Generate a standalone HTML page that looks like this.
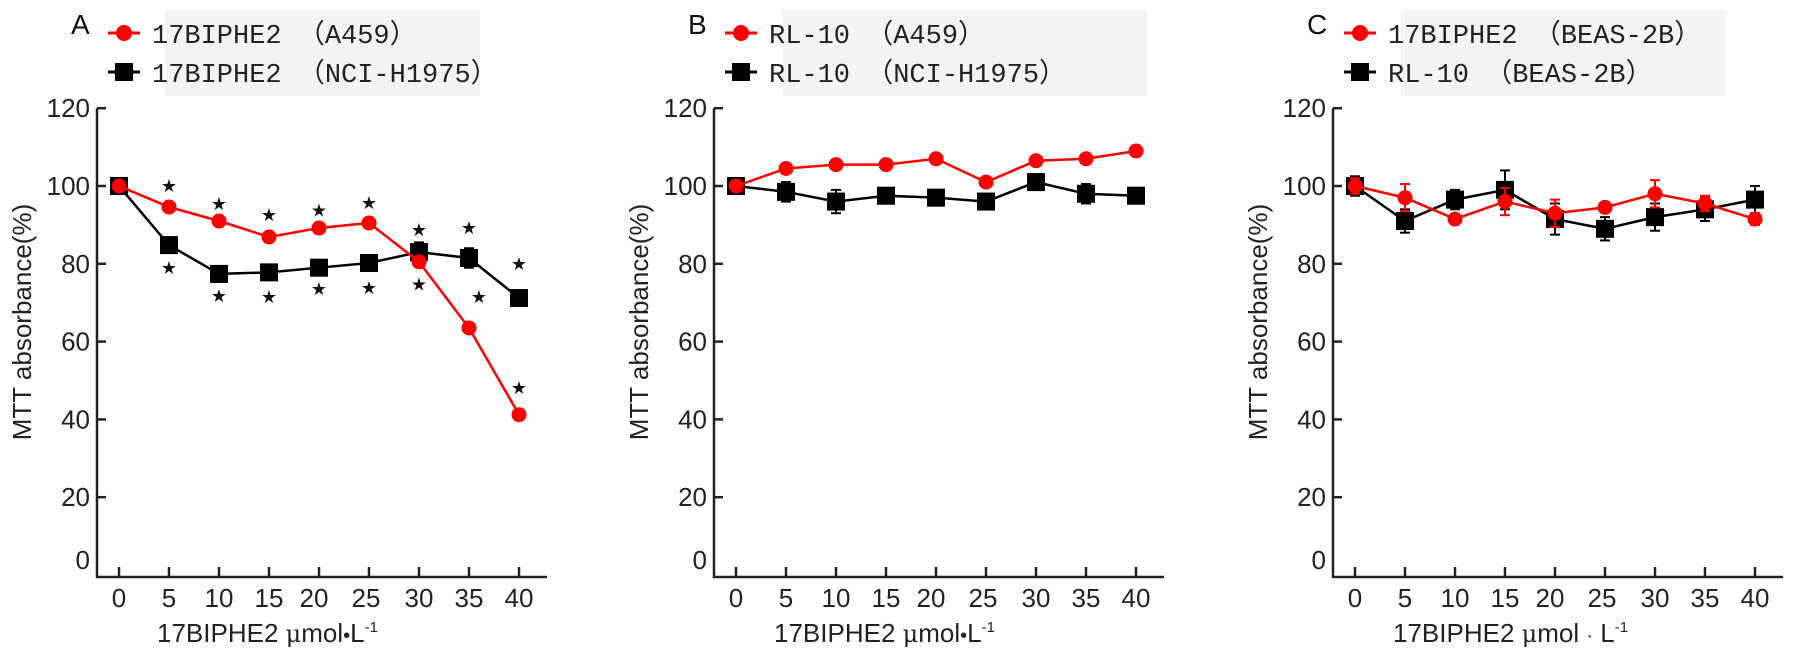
<!DOCTYPE html>
<html><head><meta charset="utf-8">
<style>
html,body{margin:0;padding:0;background:#fff;}
svg{display:block;}
</style></head>
<body>
<svg id="fig" width="1795" height="666" viewBox="0 0 1795 666" xmlns="http://www.w3.org/2000/svg"></svg>
<script>
// ---- data ----
const concentrations = [0, 5, 10, 15, 20, 25, 30, 35, 40];
const xTickLabels = ["0","5","10","15","20","25","30","35","40"];
const yTicks = [0, 20, 40, 60, 80, 100, 120];

const aRed   = [100, 94.6, 91, 86.9, 89.2, 90.5, 80.5, 63.5, 41.2];
const aBlack = [100, 84.8, 77.4, 77.8, 79, 80.2, 83, 81.5, 71.2];
const aBlackErr = [1.5, 2, 2, 2, 2, 2, 2.5, 2.5, 2];
const aRedErr = [1, 1, 1, 1, 1, 1, 1, 1, 1];
const starConc = [5, 5, 10, 10, 15, 15, 20, 20, 25, 25, 30, 30, 35, 36, 40, 40];
const starVal  = [100.3, 79.2, 95.6, 72, 92.8, 71.7, 94, 73.8, 95.9, 74, 89, 75, 89.5, 71.7, 80.2, 48.3];

const bRed   = [100, 104.5, 105.5, 105.5, 107, 101, 106.5, 107, 109];
const bBlack = [100, 98.5, 96, 97.5, 97, 96, 101, 98, 97.5];
const bRedErr = [1, 1, 1, 1, 1, 1, 1, 1, 1];
const bBlackErr = [1.5, 2.5, 3, 1.5, 1.5, 1.5, 2, 2.5, 2];

const cRed   = [100, 97, 91.5, 96, 93, 94.5, 98, 95.5, 91.5];
const cBlack = [100, 91, 96.5, 99, 91.5, 89, 92, 94, 96.5];
const cRedErr = [2, 3.5, 1, 3.5, 3.5, 1, 3.5, 2, 1.5];
const cBlackErr = [2.5, 3, 2.5, 5, 4, 3, 3.5, 3, 3.5];

const legendA = ["17BIPHE2 （A459）", "17BIPHE2 （NCI-H1975）"];
const legendB = ["RL-10 （A459）", "RL-10 （NCI-H1975）"];
const legendC = ["17BIPHE2 （BEAS-2B）", "RL-10 （BEAS-2B）"];

// ---- helpers ----
const NS = "http://www.w3.org/2000/svg";
const svg = document.getElementById("fig");
function mk(tag, attrs, parent){
  const e = document.createElementNS(NS, tag);
  for (const k in attrs) e.setAttribute(k, attrs[k]);
  (parent||svg).appendChild(e);
  return e;
}
function yScale(v){ return 575 - 3.89 * v; }
function xScaleFor(dx){ return c => 119 + dx + c * 10; }

function panel(key, dx, letter, leg, legW, red, redErr, black, blackErr, xTitle){
  const g = mk("g", {});
  
  
  const xs = xScaleFor(dx);
  const ax = 97 + dx;

  const bg = mk("rect", {x: dx + 165, y: 10, width: legW, height: 86, fill: "#f3f3f3"}, g);
  
  
  const lt = mk("text", {x: ax - 26, y: 34, "font-family": "Liberation Sans, sans-serif", "font-size": 28, fill: "#111"}, g);
  lt.textContent = letter;
  
  
  const lx = dx + 108;
  const rows = [[33, "red", leg[0]], [72, "black", leg[1]]];
  rows.forEach((r, i) => {
    const eg = mk("g", {}, g);
    
    
    const col = i === 0 ? "#ff0000" : "#000";
    mk("line", {x1: lx, y1: r[0], x2: lx + 32, y2: r[0], stroke: col, "stroke-width": 3}, eg);
    if (i === 0) mk("circle", {cx: lx + 16, cy: r[0], r: 8, fill: col}, eg);
    else mk("rect", {x: lx + 7, y: r[0] - 9, width: 18, height: 18, fill: col}, eg);
    const t = mk("text", {x: lx + 44, y: r[0] + 10, "font-family": "Liberation Mono, Noto Sans CJK SC, monospace", "font-size": 27, "font-weight": "normal", fill: "#222"}, eg);
    t.textContent = r[2];
  });

  const axes = mk("g", {stroke: "#222", "stroke-width": 2.5, fill: "none"}, g);
  
  
  mk("line", {x1: ax, y1: yScale(120), x2: ax, y2: 578}, axes);
  mk("line", {x1: ax - 1, y1: 577, x2: ax + 450, y2: 577}, axes);
  yTicks.forEach(v => {
    if (v > 0) mk("line", {x1: ax, y1: yScale(v), x2: ax + 9, y2: yScale(v)}, axes);
    const t = mk("text", {x: ax - 7, y: (v === 0 ? 569 : yScale(v) + 9), "text-anchor": "end", "font-family": "Liberation Sans, sans-serif", "font-size": 26, fill: "#222", stroke: "none"}, g);
    t.textContent = String(v);
    
    
  });
  concentrations.forEach((c, i) => {
    mk("line", {x1: xs(c), y1: 577, x2: xs(c), y2: 567}, axes);
    let off = 0;
    if (c === 20) off = -5;
    if (c === 25) off = -3;
    const t = mk("text", {x: xs(c) + off, y: 607, "text-anchor": "middle", "font-family": "Liberation Sans, sans-serif", "font-size": 26, fill: "#222"}, g);
    t.textContent = xTickLabels[i];
    
    
  });
  const yt = mk("text", {x: 0, y: 0, transform: `translate(${dx + 31},${322}) rotate(-90)`, "text-anchor": "middle", "font-family": "Liberation Sans, sans-serif", "font-size": 26, fill: "#222"}, g);
  yt.textContent = "MTT absorbance(%)";
  
  
  const xt = mk("text", {x: dx + 157, y: 642, "font-family": "Liberation Sans, sans-serif", "font-size": 26, fill: "#222"}, g);
  xt.innerHTML = xTitle;
  
  

  function series(vals, errs, col, kind){
    const sg = mk("g", {}, g);
    
    
    const pts = vals.map((v, i) => xs(concentrations[i]) + "," + yScale(v)).join(" ");
    mk("polyline", {points: pts, fill: "none", stroke: col, "stroke-width": 2.5}, sg);
    vals.forEach((v, i) => {
      const x = xs(concentrations[i]);
      const e = errs[i];
      mk("line", {x1: x, y1: yScale(v + e), x2: x, y2: yScale(v - e), stroke: col, "stroke-width": 2}, sg);
      mk("line", {x1: x - 5, y1: yScale(v + e), x2: x + 5, y2: yScale(v + e), stroke: col, "stroke-width": 2}, sg);
      mk("line", {x1: x - 5, y1: yScale(v - e), x2: x + 5, y2: yScale(v - e), stroke: col, "stroke-width": 2}, sg);
      let m;
      if (kind === "red") m = mk("circle", {cx: x, cy: yScale(v), r: 7.5, fill: col}, sg);
      else m = mk("rect", {x: x - 9, y: yScale(v) - 9, width: 18, height: 18, fill: col}, sg);
      
      
    });
  }
  series(black, blackErr, "#000", "black");
  series(red, redErr, "#ff0000", "red");
  return xs;
}

const muTitle = '17BIPHE2 <tspan font-family="DejaVu Serif, serif" font-size="24">μ</tspan>mol<tspan font-size="20">•</tspan>L<tspan font-size="15" dy="-10">-1</tspan>';
const muTitleC = '17BIPHE2 <tspan font-family="DejaVu Serif, serif" font-size="24">μ</tspan>mol <tspan font-size="20">·</tspan> L<tspan font-size="15" dy="-10">-1</tspan>';

const xsA = panel("a", 0, "A", legendA, 315, aRed, aRedErr, aBlack, aBlackErr, muTitle);
panel("b", 617, "B", legendB, 365, bRed, bRedErr, bBlack, bBlackErr, muTitle);
panel("c", 1236, "C", legendC, 325, cRed, cRedErr, cBlack, cBlackErr, muTitleC);

starConc.forEach((c, i) => {
  const s = mk("text", {x: xsA(c), y: yScale(starVal[i]) + 7, "text-anchor": "middle", "font-family": "DejaVu Sans, sans-serif", "font-size": 18, fill: "#111"});
  s.textContent = "★";
  
  
});
</script>
</body></html>
